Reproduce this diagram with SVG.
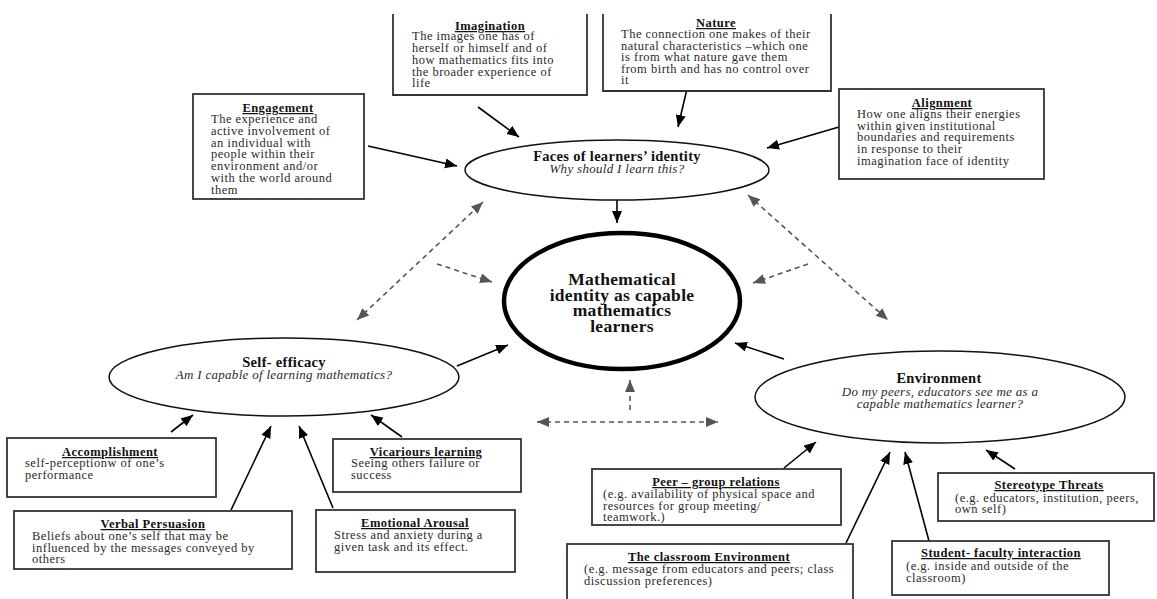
<svg xmlns="http://www.w3.org/2000/svg" width="1157" height="599" viewBox="0 0 1157 599">
<defs>
<style>
.box{fill:#fff;stroke:#333;stroke-width:1.8}
.ell{fill:#fff;stroke:#111;stroke-width:1.5}
.core{fill:#fff;stroke:#000;stroke-width:4.5}
text{font-family:"Liberation Serif","Times New Roman",serif;fill:#2a2a2a}
.t{font-size:12.5px;font-weight:bold;text-decoration:underline;text-anchor:middle;fill:#111;letter-spacing:0.45px}
.b{font-size:12.5px;letter-spacing:0.5px}
.et{font-size:14.5px;font-weight:bold;text-anchor:middle;fill:#111;letter-spacing:0.3px}
.es{font-size:13px;font-style:italic;text-anchor:middle;letter-spacing:0.3px}
.ct{font-size:17.5px;font-weight:bold;text-anchor:middle;fill:#111;letter-spacing:0.3px}
.s{stroke:#000;stroke-width:1.6;fill:none;marker-end:url(#ah)}
.d{stroke:#555;stroke-width:1.6;fill:none;stroke-dasharray:5 4;marker-end:url(#dh)}
.dd{stroke:#555;stroke-width:1.6;fill:none;stroke-dasharray:5 4;marker-end:url(#dh);marker-start:url(#dhs)}
</style>
<marker id="ah" markerUnits="userSpaceOnUse" markerWidth="14" markerHeight="12" refX="12" refY="5" orient="auto"><path d="M0,0 L12,5 L0,10 z" fill="#000"/></marker>
<marker id="dh" markerUnits="userSpaceOnUse" markerWidth="14" markerHeight="12" refX="12" refY="5" orient="auto"><path d="M0,0 L12,5 L0,10 z" fill="#555"/></marker>
<marker id="dhs" markerUnits="userSpaceOnUse" markerWidth="14" markerHeight="12" refX="0" refY="5" orient="auto"><path d="M12,0 L0,5 L12,10 z" fill="#555"/></marker>
</defs>
<rect width="1157" height="599" fill="#fff"/>

<g id="connectors">
<line class="s" x1="478" y1="107" x2="519" y2="137"/>
<line class="s" x1="687" y1="89" x2="678" y2="127"/>
<line class="s" x1="368" y1="146" x2="457" y2="166"/>
<line class="s" x1="839" y1="127" x2="767" y2="148"/>
<line class="s" x1="617" y1="200" x2="617" y2="223"/>
<line class="s" x1="457" y1="366" x2="508" y2="345"/>
<line class="s" x1="784" y1="359" x2="735" y2="343"/>
<line class="s" x1="171" y1="432" x2="193" y2="415"/>
<line class="s" x1="231" y1="510" x2="271" y2="426"/>
<line class="s" x1="333" y1="508" x2="299" y2="426"/>
<line class="s" x1="402" y1="437" x2="371" y2="415"/>
<line class="s" x1="784" y1="468" x2="816" y2="442"/>
<line class="s" x1="846" y1="543" x2="890" y2="452"/>
<line class="s" x1="929" y1="541" x2="905" y2="452"/>
<line class="s" x1="1015" y1="469" x2="986" y2="450"/>
<line class="dd" x1="357" y1="320" x2="483" y2="202"/>
<line class="dd" x1="748" y1="195" x2="888" y2="320"/>
<line class="d" x1="437" y1="264" x2="492" y2="282"/>
<line class="d" x1="808" y1="264" x2="753" y2="283"/>
<line class="dd" x1="537" y1="422" x2="718" y2="422"/>
<line class="d" x1="630" y1="410" x2="630" y2="380"/>
</g>

<g id="imagination">
<path class="box" d="M393,14 V95 H587 V14"/>
<text class="t" x="490" y="30">Imagination</text>
<text class="b" x="412" y="40">The images one has of</text>
<text class="b" x="412" y="52">herself or himself and of</text>
<text class="b" x="412" y="64">how mathematics fits into</text>
<text class="b" x="412" y="76">the broader experience of</text>
<text class="b" x="412" y="87">life</text>
</g>

<g id="nature">
<path class="box" d="M603,14 V91 H831 V14"/>
<text class="t" x="716" y="27">Nature</text>
<text class="b" x="621" y="38">The connection one makes of their</text>
<text class="b" x="621" y="50">natural characteristics –which one</text>
<text class="b" x="621" y="61">is from what nature gave them</text>
<text class="b" x="621" y="73">from birth and has no control over</text>
<text class="b" x="621" y="84">it</text>
</g>

<g id="engagement">
<rect class="box" x="193" y="94" width="171" height="105"/>
<text class="t" x="278" y="112">Engagement</text>
<text class="b" x="211" y="123">The experience and</text>
<text class="b" x="211" y="135">active involvement of</text>
<text class="b" x="211" y="147">an individual with</text>
<text class="b" x="211" y="158">people within their</text>
<text class="b" x="211" y="170">environment and/or</text>
<text class="b" x="211" y="182">with the world around</text>
<text class="b" x="211" y="194">them</text>
</g>

<g id="alignment">
<rect class="box" x="839" y="89" width="205" height="90"/>
<text class="t" x="942" y="107">Alignment</text>
<text class="b" x="857" y="118">How one aligns their energies</text>
<text class="b" x="857" y="130">within given institutional</text>
<text class="b" x="857" y="141">boundaries and requirements</text>
<text class="b" x="857" y="153">in response to their</text>
<text class="b" x="857" y="165">imagination face of identity</text>
</g>

<g id="faces">
<ellipse class="ell" cx="617" cy="170" rx="152" ry="30"/>
<text class="et" x="617" y="161">Faces of learners’ identity</text>
<text class="es" x="617" y="173">Why should I learn this?</text>
</g>

<g id="core">
<ellipse class="core" cx="622" cy="301" rx="118" ry="68"/>
<text class="ct" x="622" y="285">Mathematical</text>
<text class="ct" x="622" y="301">identity as capable</text>
<text class="ct" x="622" y="316">mathematics</text>
<text class="ct" x="622" y="332">learners</text>
</g>

<g id="self-efficacy">
<ellipse class="ell" cx="284" cy="377" rx="175" ry="39"/>
<text class="et" x="284" y="367">Self- efficacy</text>
<text class="es" x="284" y="379">Am I capable of learning mathematics?</text>
</g>

<g id="environment">
<ellipse class="ell" cx="940" cy="397" rx="185" ry="46"/>
<text class="et" x="939" y="383">Environment</text>
<text class="es" x="940" y="396">Do my peers, educators see me as a</text>
<text class="es" x="940" y="408">capable mathematics learner?</text>
</g>

<g id="accomplishment">
<rect class="box" x="7" y="438" width="209" height="59"/>
<text class="t" x="110" y="456">Accomplishment</text>
<text class="b" x="25" y="467">self-perceptionw of one’s</text>
<text class="b" x="25" y="479">performance</text>
</g>

<g id="vicarious">
<rect class="box" x="333" y="439" width="188" height="53"/>
<text class="t" x="426" y="456">Vicariours learning</text>
<text class="b" x="351" y="467">Seeing others failure or</text>
<text class="b" x="351" y="479">success</text>
</g>

<g id="verbal">
<rect class="box" x="14" y="511" width="278" height="58"/>
<text class="t" x="153" y="528">Verbal Persuasion</text>
<text class="b" x="32" y="540">Beliefs about one’s self that may be</text>
<text class="b" x="32" y="552">influenced by the messages conveyed by</text>
<text class="b" x="32" y="563">others</text>
</g>

<g id="emotional">
<rect class="box" x="316" y="510" width="199" height="62"/>
<text class="t" x="415" y="527">Emotional Arousal</text>
<text class="b" x="334" y="539">Stress and anxiety during a</text>
<text class="b" x="334" y="551">given task and its effect.</text>
</g>

<g id="peer">
<rect class="box" x="592" y="469" width="249" height="56"/>
<text class="t" x="716" y="486">Peer – group relations</text>
<text class="b" x="603" y="498">(e.g. availability of physical space and</text>
<text class="b" x="603" y="510">resources for group meeting/</text>
<text class="b" x="603" y="521">teamwork.)</text>
</g>

<g id="stereotype">
<rect class="box" x="938" y="473" width="216" height="48"/>
<text class="t" x="1049" y="489">Stereotype Threats</text>
<text class="b" x="955" y="502">(e.g. educators, institution, peers,</text>
<text class="b" x="955" y="513">own self)</text>
</g>

<g id="classroom">
<rect class="box" x="567" y="544" width="286" height="60"/>
<text class="t" x="709" y="561">The classroom Environment</text>
<text class="b" x="584" y="573">(e.g. message from educators and peers; class</text>
<text class="b" x="584" y="585">discussion preferences)</text>
</g>

<g id="student">
<rect class="box" x="892" y="541" width="217" height="54"/>
<text class="t" x="1001" y="557">Student- faculty interaction</text>
<text class="b" x="906" y="570">(e.g. inside and outside of the</text>
<text class="b" x="906" y="582">classroom)</text>
</g>
</svg>
